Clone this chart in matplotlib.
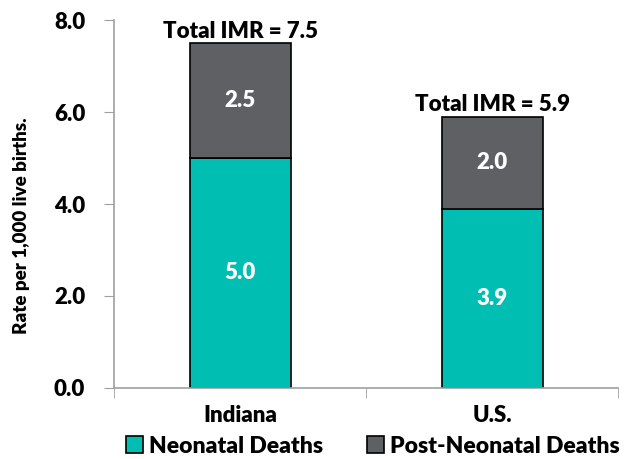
import matplotlib.pyplot as plt

plt.rcParams['font.family'] = ['Lato', 'DejaVu Sans']
plt.rcParams['font.weight'] = 'heavy'

regions = ['Indiana', 'U.S.']
neonatal = [5.0, 3.9]
post_neonatal = [2.5, 2.0]
totals = [7.5, 5.9]

teal = '#00BFB2'
grey = '#5E6064'
W = 'heavy'

fig = plt.figure(figsize=(6.32, 4.59), dpi=100)
ax = fig.add_axes([0.181, 0.155, 0.797, 0.801])

x = range(len(regions))
b1 = ax.bar(x, neonatal, width=0.4, color=teal, edgecolor='black', linewidth=1.2,
            label='Neonatal Deaths')
b2 = ax.bar(x, post_neonatal, width=0.4, bottom=neonatal, color=grey,
            edgecolor='black', linewidth=1.2, label='Post-Neonatal Deaths')

for i in x:
    ax.text(i, neonatal[i] / 2, f'{neonatal[i]:.1f}', ha='center', va='center',
            color='white', fontsize=16, fontweight=W)
    ax.text(i, neonatal[i] + post_neonatal[i] / 2, f'{post_neonatal[i]:.1f}',
            ha='center', va='center', color='white', fontsize=16, fontweight=W)
    ax.text(i, totals[i] + 0.03, f'Total IMR = {totals[i]}', ha='center',
            va='bottom', fontsize=16, fontweight=W)

ax.set_xlim(-0.5, 1.5)
ax.set_ylim(0, 8)
ax.set_yticks([0, 2, 4, 6, 8])
ax.set_yticklabels([f'{v:.1f}' for v in [0, 2, 4, 6, 8]], fontsize=16, fontweight=W)
ax.set_xticks([0, 1])
ax.set_xticklabels(regions, fontsize=16, fontweight=W)
ax.set_xticks([-0.5, 0.5, 1.5], minor=True)
ax.tick_params(axis='x', which='major', length=0, pad=12)
ax.tick_params(axis='x', which='minor', length=7, color='#A0A0A0', direction='out')
ax.tick_params(axis='y', length=7, color='#A0A0A0', direction='out', pad=14)

for s in ['top', 'right']:
    ax.spines[s].set_visible(False)
ax.spines['left'].set_color('#A0A0A0')
ax.spines['bottom'].set_color('#A0A0A0')
ax.spines['left'].set_linewidth(1.2)
ax.spines['bottom'].set_linewidth(1.2)

# y-axis title placed a bit below the axes centre, as in the original
fig.text(22 / 632, 1 - 226 / 459, 'Rate per 1,000 live births.', rotation=90,
         ha='center', va='center', fontsize=13.5, fontweight=W)

fig.legend(handles=[b1, b2], loc='lower center', bbox_to_anchor=(0.59, -0.04), ncol=2,
           frameon=False, handlelength=0.75, handleheight=0.75,
           handletextpad=0.25, columnspacing=1.9, prop={'weight': W, 'size': 16.5})

fig.savefig('out.png', dpi=100)
